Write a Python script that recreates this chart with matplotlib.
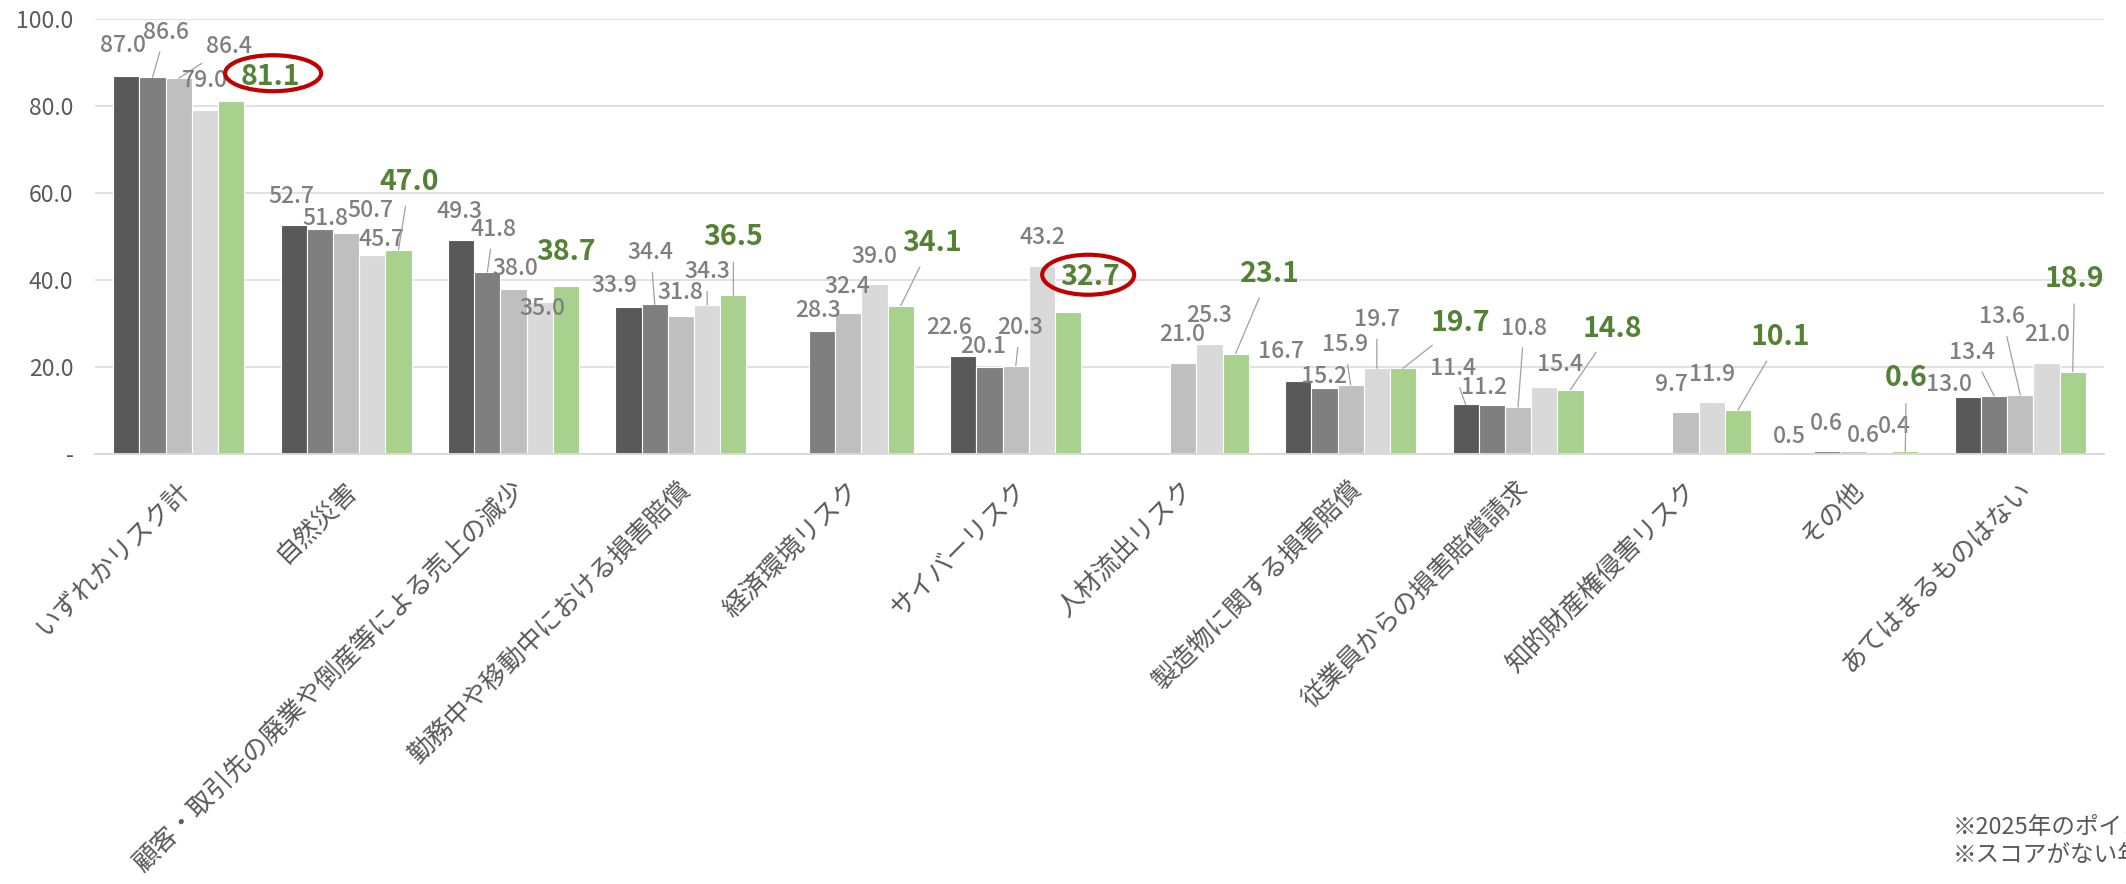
import numpy as np
import matplotlib
matplotlib.use('Agg')
import matplotlib.pyplot as plt
from matplotlib.transforms import ScaledTranslation, offset_copy
from matplotlib.patches import Ellipse

plt.rcParams['font.family'] = ['Noto Sans CJK JP', 'DejaVu Sans']

nan = np.nan

# ---------------- data ----------------
categories = [
    'いずれかリスク計',
    '自然災害',
    '顧客・取引先の廃業や倒産等による売上の減少',
    '勤務中や移動中における損害賠償',
    '経済環境リスク',
    'サイバーリスク',
    '人材流出リスク',
    '製造物に関する損害賠償',
    '従業員からの損害賠償請求',
    '知的財産権侵害リスク',
    'その他',
    'あてはまるものはない',
]
series_1 = [87.0, 52.7, 49.3, 33.9, nan, 22.6, nan, 16.7, 11.4, nan, 0.5, 13.0]
series_2 = [86.6, 51.8, 41.8, 34.4, 28.3, 20.1, nan, 15.2, 11.2, nan, 0.6, 13.4]
series_3 = [86.4, 50.7, 38.0, 31.8, 32.4, 20.3, 21.0, 15.9, 10.8, 9.7, 0.6, 13.6]
series_4 = [79.0, 45.7, 35.0, 34.3, 39.0, 43.2, 25.3, 19.7, 15.4, 11.9, 0.4, 21.0]
series_2025 = [81.1, 47.0, 38.7, 36.5, 34.1, 32.7, 23.1, 19.7, 14.8, 10.1, 0.6, 18.9]
series = [series_1, series_2, series_3, series_4, series_2025]
highlight_categories = [0, 5]   # 2025 values circled in red

y_ticks = [0, 20, 40, 60, 80, 100]
y_tick_labels = ['-', '20.0', '40.0', '60.0', '80.0', '100.0']
notes = ['※2025年のポイントを緑色で表示', '※スコアがない年は調査項目なし']

# ---------------- style / layout ----------------
colors = ['#595959', '#7f7f7f', '#bfbfbf', '#d9d9d9', '#a9d18e']
label_gray = '#7f7f7f'
label_green = '#548235'
text_dark = '#595959'
grid_col = '#d9d9d9'
leader_col = '#a0a0a0'

# label offsets from bar top (pixels: dx right, dy up, leader line flag)
label_offsets = [
    [(-3, 30, 0), (-2, 28, 0), (-2, 28, 0), (-14, 21, 0), None, (-14, 28, 0), None,
     (-17, 30, 0), (-13, 36, 1), None, (-11, 15, 0), (-19, 13, 0)],
    [(13, 45, 1), (5, 10, 0), (6, 43, 1), (-4, 52, 1), (-4, 20, 0), (-6, 20, 0), None,
     (0, 11, 0), (-8, 18, 0), None, (0, 28, 0), (-22, 43, 1)],
    [(50, 32, 1), (24, 23, 0), (2, 20, 0), (-1, 23, 0), (-1, 27, 0), (4, 38, 1),
     (-1, 28, 0), (-6, 40, 1), (6, 79, 1), (-14, 27, 0), (11, 16, 0), (-18, 78, 1)],
    [(0, 30, 0), (9, 16, 0), (3, -7, 0), (0, 33, 1), (0, 28, 0), (0, 29, 0), (0, 28, 0),
     (0, 49, 1), (16, 23, 0), (0, 28, 0), (15, 26, 0), (1, 28, 0)],
    [(39, 24, 0), (11, 68, 1), (0, 34, 0), (0, 58, 1), (31, 63, 1), (22, 35, 0),
     (34, 80, 1), (57, 45, 1), (42, 61, 1), (43, 73, 1), (1, 73, 1), (2, 93, 1)],
]
ellipse_geom = {0: (42, 28, 96, 36), 5: (20, 37, 92, 40)}  # dx, dy, w, h in px

W, H, DPI = 2126, 884, 100
fig = plt.figure(figsize=(W / DPI, H / DPI), dpi=DPI)
ax = fig.add_axes([95 / W, 1 - 454 / H, (2104 - 95) / W, (454 - 19) / H])

x = np.arange(len(categories))
bw = 0.1565
px2pt = 72 / DPI

for j, vals in enumerate(series):
    v = np.array(vals, dtype=float)
    m = ~np.isnan(v)
    ax.bar(x[m] + (j - 2) * bw, v[m], width=bw, color=colors[j],
           edgecolor='white', linewidth=0.8, zorder=2)

for j, vals in enumerate(series):
    green = (j == 4)
    for i, v in enumerate(vals):
        if np.isnan(v):
            continue
        dx, dy, lead = label_offsets[j][i]
        xb = x[i] + (j - 2) * bw
        arrow = None
        if lead:
            arrow = dict(arrowstyle='-', color=leader_col, lw=0.9,
                         shrinkA=6 if green else 4, shrinkB=0)
        ax.annotate(f'{v:.1f}', xy=(xb, v), xytext=(dx * px2pt, dy * px2pt),
                    textcoords='offset points', ha='center', va='center',
                    fontsize=20.5 if green else 16.5,
                    fontweight='bold' if green else 'medium',
                    color=label_green if green else label_gray,
                    arrowprops=arrow, annotation_clip=False, zorder=5)

for i in highlight_categories:
    dx, dy, w, h = ellipse_geom[i]
    xb = x[i] + 2 * bw
    tr = fig.dpi_scale_trans + ScaledTranslation(xb, series_2025[i], ax.transData)
    ax.add_patch(Ellipse((dx / DPI, dy / DPI), w / DPI, h / DPI, transform=tr,
                         fill=False, edgecolor='#c00000', linewidth=3.0,
                         clip_on=False, zorder=6))

ax.set_xlim(-0.5, len(categories) - 0.5)
ax.set_ylim(0, 100)
ax.set_yticks(y_ticks)
ax.set_yticklabels(y_tick_labels)
ax.tick_params(axis='y', length=0, pad=15.5, labelsize=16.5, labelcolor=text_dark)
ax.set_xticks(x)
ax.set_xticklabels([''] * len(x))
ax.tick_params(axis='x', length=0)
ax.grid(axis='y', color=grid_col, linewidth=1.1)
ax.set_axisbelow(True)
for s in ['left', 'right', 'top']:
    ax.spines[s].set_visible(False)
ax.spines['bottom'].set_color(grid_col)
ax.spines['bottom'].set_linewidth(1.4)

lab_tr = offset_copy(ax.get_xaxis_transform(), fig=fig, x=7, y=-32, units='dots')
for i, c in enumerate(categories):
    ax.text(x[i], 0, c, transform=lab_tr, rotation=45, ha='right', va='center',
            rotation_mode='anchor', fontsize=18.5, color=text_dark)

fig.text(1953 / W, 1 - 827 / H, notes[0], ha='left', va='center', fontsize=17, color=text_dark)
fig.text(1953 / W, 1 - 855 / H, notes[1], ha='left', va='center', fontsize=17, color=text_dark)

fig.savefig('out.png', dpi=DPI)
